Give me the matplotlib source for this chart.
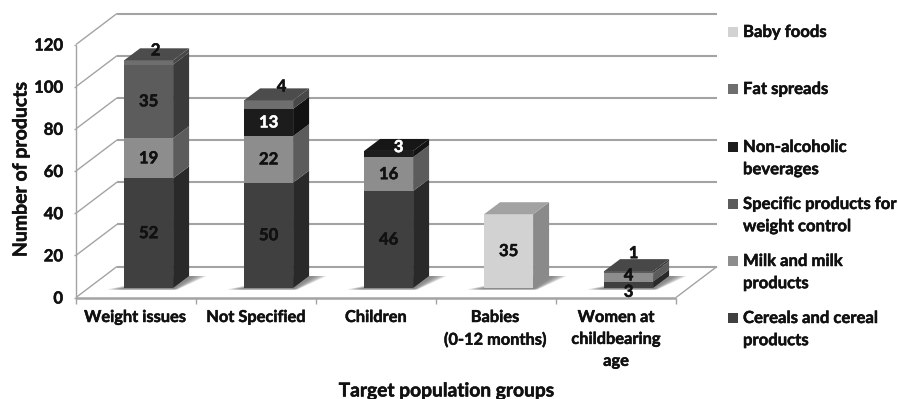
import matplotlib
matplotlib.use("Agg")
import matplotlib.pyplot as plt
import matplotlib.patheffects as pe
from matplotlib.patches import Polygon

plt.rcParams['font.family'] = ['Lato', 'DejaVu Sans']

categories = ["Weight issues", "Not Specified", "Children",
              "Babies\n(0-12 months)", "Women at\nchildbearing\nage"]
cereals = [52, 50, 46, 0, 3]
milk = [19, 22, 16, 0, 4]
weight_control = [35, 0, 0, 0, 1]
beverages = [0, 13, 3, 0, 0]
fat_spreads = [2, 4, 0, 0, 0]
baby_foods = [0, 0, 0, 35, 0]
y_ticks = [0, 20, 40, 60, 80, 100, 120]

# series name, values, front, side, top shades
series = [
    ("Cereals and cereal\nproducts", cereals, "#404040", "#292929", "#333333"),
    ("Milk and milk\nproducts", milk, "#8d8d8d", "#5c5c5c", "#6c6c6c"),
    ("Specific products for\nweight control", weight_control, "#5c5c5c", "#3b3b3b", "#484848"),
    ("Non-alcoholic\nbeverages", beverages, "#1c1c1c", "#121212", "#161616"),
    ("Fat spreads", fat_spreads, "#6e6e6e", "#484848", "#4c4c4c"),
    ("Baby foods", baby_foods, "#d2d2d2", "#8a8a8a", "#a2a2a2"),
]
legend_y = [318, 261, 204, 147, 89, 32]

W, H = 898, 399
fig = plt.figure(figsize=(W / 100, H / 100), dpi=100, facecolor="white")
# plotting rectangle of the front plane, in pixels
L, R, T, B = 76, 676, 44.5, 297.5
ax = fig.add_axes([L / W, 1 - B / H, (R - L) / W, (B - T) / H])
ax.set_xlim(0, 5)
ax.set_ylim(0, 120)
ax.axis("off")

px_x = 5 / (R - L)
px_y = 120 / (B - T)
wall_dx, wall_dy = 41 * px_x, 31 * px_y
bar_dx, bar_dy = 16 * px_x, 12 * px_y
bar_w = 49 * px_x
floor_y = 9.5 * px_y
grid = "#a3a3a3"
ink = "#111111"
heavier = [pe.withStroke(linewidth=0.35, foreground=ink)]


def line(xs, ys, lw=1.5, z=1):
    ax.plot(xs, ys, color=grid, lw=lw, zorder=z, clip_on=False, solid_capstyle="butt")


def face(points, color, z=3, alpha=1.0):
    ax.add_patch(Polygon(points, closed=True, facecolor=color, edgecolor="none",
                         alpha=alpha, zorder=z, clip_on=False))


# chart walls and floor
for t in y_ticks:
    line([wall_dx, 5 + wall_dx], [t + wall_dy, t + wall_dy], 1.5)
    line([0, wall_dx], [t, t + wall_dy], 1.0)
    line([-2 * px_x, 0], [t, t], 1.0)
line([0, 0], [0, 120], 1.0)
line([0, 5], [0, 0], 1.8)
line([5, 5 + wall_dx], [0, wall_dy], 1.0)
for i in range(6):
    line([i, i], [0, -6 * px_y], 1.0)

# stacked boxes, with a soft shadow on the floor
for i in range(len(categories)):
    x0 = i + 0.605 - bar_w / 2
    x1 = x0 + bar_w
    for k in range(6):
        grow = (6 - k) * 2.4 * px_x
        face([(x0 - 3 * px_x - grow, floor_y - 1.5 * px_y), (x1 + grow * 0.3, floor_y - 1.5 * px_y),
              (x1 + bar_dx + 3 * px_x + grow, floor_y + bar_dy), (x1, floor_y + bar_dy)],
             "#666666", z=2, alpha=0.2)
    base = floor_y
    top_color = None
    for name, values, front, side, top in series:
        v = values[i]
        if v == 0:
            continue
        face([(x1, base), (x1 + bar_dx, base + bar_dy),
              (x1 + bar_dx, base + v + bar_dy), (x1, base + v)], side, z=3)
        face([(x0, base), (x1, base), (x1, base + v), (x0, base + v)], front, z=4)
        base += v
        top_color = top
    face([(x0, base), (x1, base), (x1 + bar_dx, base + bar_dy),
          (x0 + bar_dx, base + bar_dy)], top_color, z=4)

# value labels: pixel nudges for segments too thin to hold their number
nudges = {(0, 4): (7, 12), (1, 4): (13, 18), (2, 3): (10, 7),
          (4, 0): (0, -7), (4, 1): (0, 2), (4, 2): (5, 19)}
white_labels = {"Non-alcoholic\nbeverages"}
for i in range(len(categories)):
    cx = i + 0.605
    base = floor_y
    for s, (name, values, front, side, top) in enumerate(series):
        v = values[i]
        if v == 0:
            continue
        is_white = name in white_labels
        ax.annotate(str(v), (cx, base + v / 2), xytext=nudges.get((i, s), (0, 0)),
                    textcoords="offset pixels", ha="center", va="center",
                    fontsize=12, fontweight="bold", zorder=6, annotation_clip=False,
                    color="white" if is_white else ink,
                    path_effects=[pe.withStroke(linewidth=0.35,
                                                foreground="white" if is_white else ink)])
        base += v


def fig_text(x, y, s, **kw):
    fig.text(x / W, 1 - y / H, s, color=ink, fontweight="bold", path_effects=heavier, **kw)


for t in y_ticks:
    ax.annotate(str(t), (0, t), xytext=(-13, -1), textcoords="offset pixels",
                ha="right", va="center", fontsize=12, fontweight="bold",
                color=ink, annotation_clip=False, path_effects=heavier)

label_x = [135, 256, 376, 495, 616]
for x, c in zip(label_x, categories):
    fig_text(x, 311, c, ha="center", va="top", fontsize=11.8, linespacing=1.72)

fig_text(21, 169, "Number of products", rotation=90, ha="center", va="center", fontsize=14)
fig_text(446, 391, "Target population groups", ha="center", va="center", fontsize=13.8)

# legend column
for (name, values, front, side, top), y in zip(series, legend_y):
    fig.patches.append(plt.Rectangle((728 / W, 1 - (y + 5) / H), 10 / W, 10 / H,
                                     transform=fig.transFigure, facecolor=front,
                                     edgecolor="none"))
    fig_text(743, y - 8, name, ha="left", va="top", fontsize=12, linespacing=1.48)

fig.savefig("out.png", dpi=100)
